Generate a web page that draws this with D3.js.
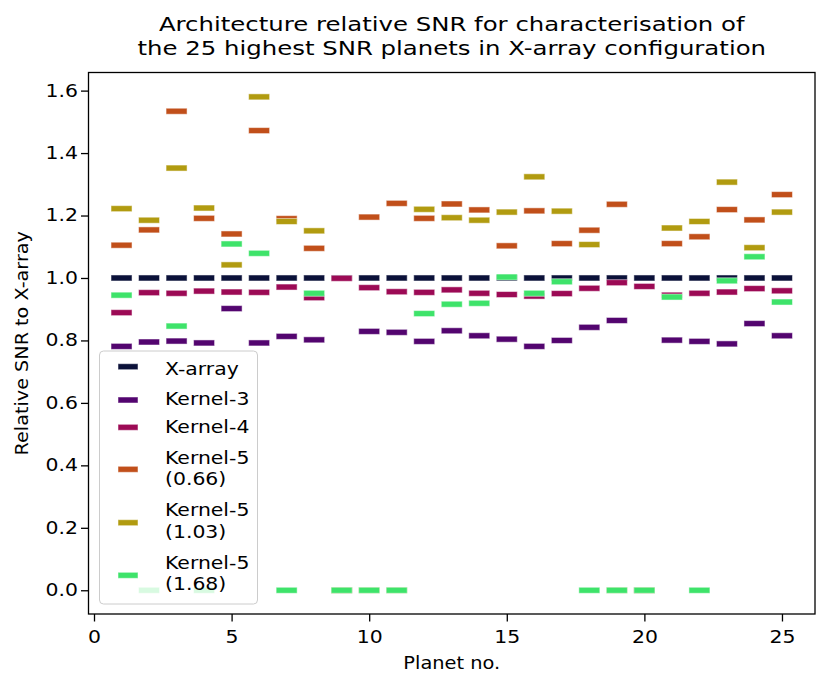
<!DOCTYPE html>
<html>
<head>
<meta charset="utf-8">
<script src="https://cdn.jsdelivr.net/npm/d3@7"></script>
<style>
  body { margin: 0; background: #fff; }
  text { font-family: "DejaVu Sans", sans-serif; fill: #000; }
</style>
</head>
<body>
<div id="chart"></div>
<script>
// planet numbers 1..25
const planets = d3.range(1, 26);

const seriesNames = ["X-array", "Kernel-3", "Kernel-4", "Kernel-5\n(0.66)", "Kernel-5\n(1.03)", "Kernel-5\n(1.68)"];
const seriesColors = ["#0b1139", "#53056f", "#9c0a55", "#c14f1a", "#b19b10", "#3ee36a"];

const xarray = [1, 1, 1, 1, 1, 1, 1, 1, 1, 1, 1, 1, 1, 1, 1, 1, 1, 1, 1, 1, 1, 1, 1, 1, 1];
const kernel3 = [0.781, 0.795, 0.798, 0.792, 0.902, 0.792, 0.813, 0.802, 0, 0.829, 0.826, 0.797, 0.831, 0.815, 0.804, 0.781, 0.800, 0.842, 0.864, 0, 0.801, 0.797, 0.789, 0.854, 0.815];
const kernel4 = [0.889, 0.953, 0.951, 0.958, 0.955, 0.954, 0.971, 0.937, 0.999, 0.969, 0.956, 0.954, 0.962, 0.951, 0.947, 0.942, 0.950, 0.967, 0.985, 0.973, 0.945, 0.951, 0.955, 0.966, 0.959];
const kernel5a = [1.105, 1.154, 1.534, 1.191, 1.141, 1.472, 1.190, 1.095, 0, 1.195, 1.239, 1.191, 1.237, 1.218, 1.103, 1.215, 1.110, 1.153, 1.236, 0, 1.110, 1.132, 1.219, 1.186, 1.267];
const kernel5b = [1.222, 1.185, 1.352, 1.224, 1.042, 1.580, 1.181, 1.151, 0, 0, 0, 1.220, 1.193, 1.185, 1.211, 1.324, 1.214, 1.107, 0, 0, 1.160, 1.181, 1.307, 1.097, 1.211];
const kernel5c = [0.945, 0, 0.846, 0, 1.109, 1.079, 0, 0.951, 0, 0, 0, 0.886, 0.916, 0.919, 1.003, 0.951, 0.988, 0, 0, 0, 0.939, 0, 0.991, 1.068, 0.923];

const allSeries = [xarray, kernel3, kernel4, kernel5a, kernel5b, kernel5c];

const xTicks = [0, 5, 10, 15, 20, 25];
const yTicks = [0, 0.2, 0.4, 0.6, 0.8, 1.0, 1.2, 1.4, 1.6];

const W = 831, H = 691;
const plotL = 88.5, plotR = 815, plotT = 72.5, plotB = 614;
const markW = 21, markH = 6;

// the original text is rendered a bit wider than plain DejaVu, stretch along the baseline
function widen(sel, sx) {
    sel.each(function() {
        const t = d3.select(this);
        const ax = +(t.attr("x") || 0);
        t.attr("transform", "translate(" + ax + ",0) scale(" + sx + ",1) translate(" + (-ax) + ",0)");
    });
}

const svg = d3.select("#chart").append("svg")
    .attr("width", W).attr("height", H);

const x = d3.scaleLinear().domain([-0.2, 26.2]).range([plotL, plotR]);
const y = d3.scaleLinear().domain([-0.076, 1.658]).range([plotB, plotT]);

// markers, in plotting order so later series sit on top
allSeries.forEach(function(vals, i) {
    svg.append("g").selectAll("rect")
        .data(vals.map(function(v, j) { return {p: planets[j], v: v}; }))
        .enter().append("rect")
        .attr("x", function(d) { return x(d.p) - markW / 2; })
        .attr("y", function(d) { return y(d.v) - markH / 2; })
        .attr("width", markW)
        .attr("height", markH)
        .attr("fill", seriesColors[i])
        .attr("stroke", "#fff")
        .attr("stroke-opacity", 0.5)
        .attr("stroke-width", 1);
});

// axes
const xAxis = svg.append("g")
    .attr("transform", "translate(0," + plotB + ")")
    .call(d3.axisBottom(x).tickValues(xTicks).tickSize(7.5).tickPadding(9).tickFormat(d3.format("d")));
const yAxis = svg.append("g")
    .attr("transform", "translate(" + plotL + ",0)")
    .call(d3.axisLeft(y).tickValues(yTicks).tickSize(7.5).tickPadding(3).tickFormat(d3.format(".1f")));

[xAxis, yAxis].forEach(function(a) {
    a.select(".domain").remove();
    a.selectAll(".tick line").attr("stroke", "#000").attr("stroke-width", 1.3);
    a.selectAll(".tick text").style("font-family", "DejaVu Sans").style("font-size", "17px").attr("fill", "#000");
    widen(a.selectAll(".tick text"), 1.2);
});

// frame
svg.append("rect")
    .attr("x", plotL).attr("y", plotT)
    .attr("width", plotR - plotL).attr("height", plotB - plotT)
    .attr("fill", "none").attr("stroke", "#000").attr("stroke-width", 1.3);

// title
const cx = (plotL + plotR) / 2;
const title = svg.append("text")
    .attr("text-anchor", "middle")
    .attr("x", cx)
    .style("font-size", "20px");
title.append("tspan").attr("x", cx).attr("y", 31).text("Architecture relative SNR for characterisation of");
title.append("tspan").attr("x", cx).attr("y", 55).text("the 25 highest SNR planets in X-array configuration");
widen(title, 1.22);

// axis labels
const xLab = svg.append("text")
    .attr("x", cx).attr("y", 669)
    .attr("text-anchor", "middle").style("font-size", "17px")
    .text("Planet no.");
widen(xLab, 1.14);
svg.append("text")
    .attr("transform", "translate(28," + (plotT + plotB) / 2 + ") rotate(-90) scale(1.13,1)")
    .attr("text-anchor", "middle").style("font-size", "17px")
    .text("Relative SNR to X-array");

// legend
const legend = svg.append("g");
legend.append("rect")
    .attr("x", 99.5).attr("y", 351).attr("width", 158).attr("height", 253)
    .attr("rx", 4)
    .attr("fill", "#fff").attr("fill-opacity", 0.8)
    .attr("stroke", "#cccccc").attr("stroke-width", 1);

const rowMarkY = [366.7, 400, 427.3, 469.3, 522.7, 575.3];
const rowTextY = [375, 405, 433, 464, 485.5, 516.5, 538, 569, 590];
let lineIdx = 0;
seriesNames.forEach(function(name, i) {
    legend.append("rect")
        .attr("x", 118).attr("y", rowMarkY[i] - markH / 2)
        .attr("width", 20).attr("height", markH)
        .attr("fill", seriesColors[i])
        .attr("stroke", "#fff").attr("stroke-opacity", 0.5).attr("stroke-width", 1);
    name.split("\n").forEach(function(line) {
        const t = legend.append("text")
            .attr("x", 165).attr("y", rowTextY[lineIdx++])
            .style("font-size", "17px")
            .text(line);
        widen(t, 1.2);
    });
});
</script>
</body>
</html>
